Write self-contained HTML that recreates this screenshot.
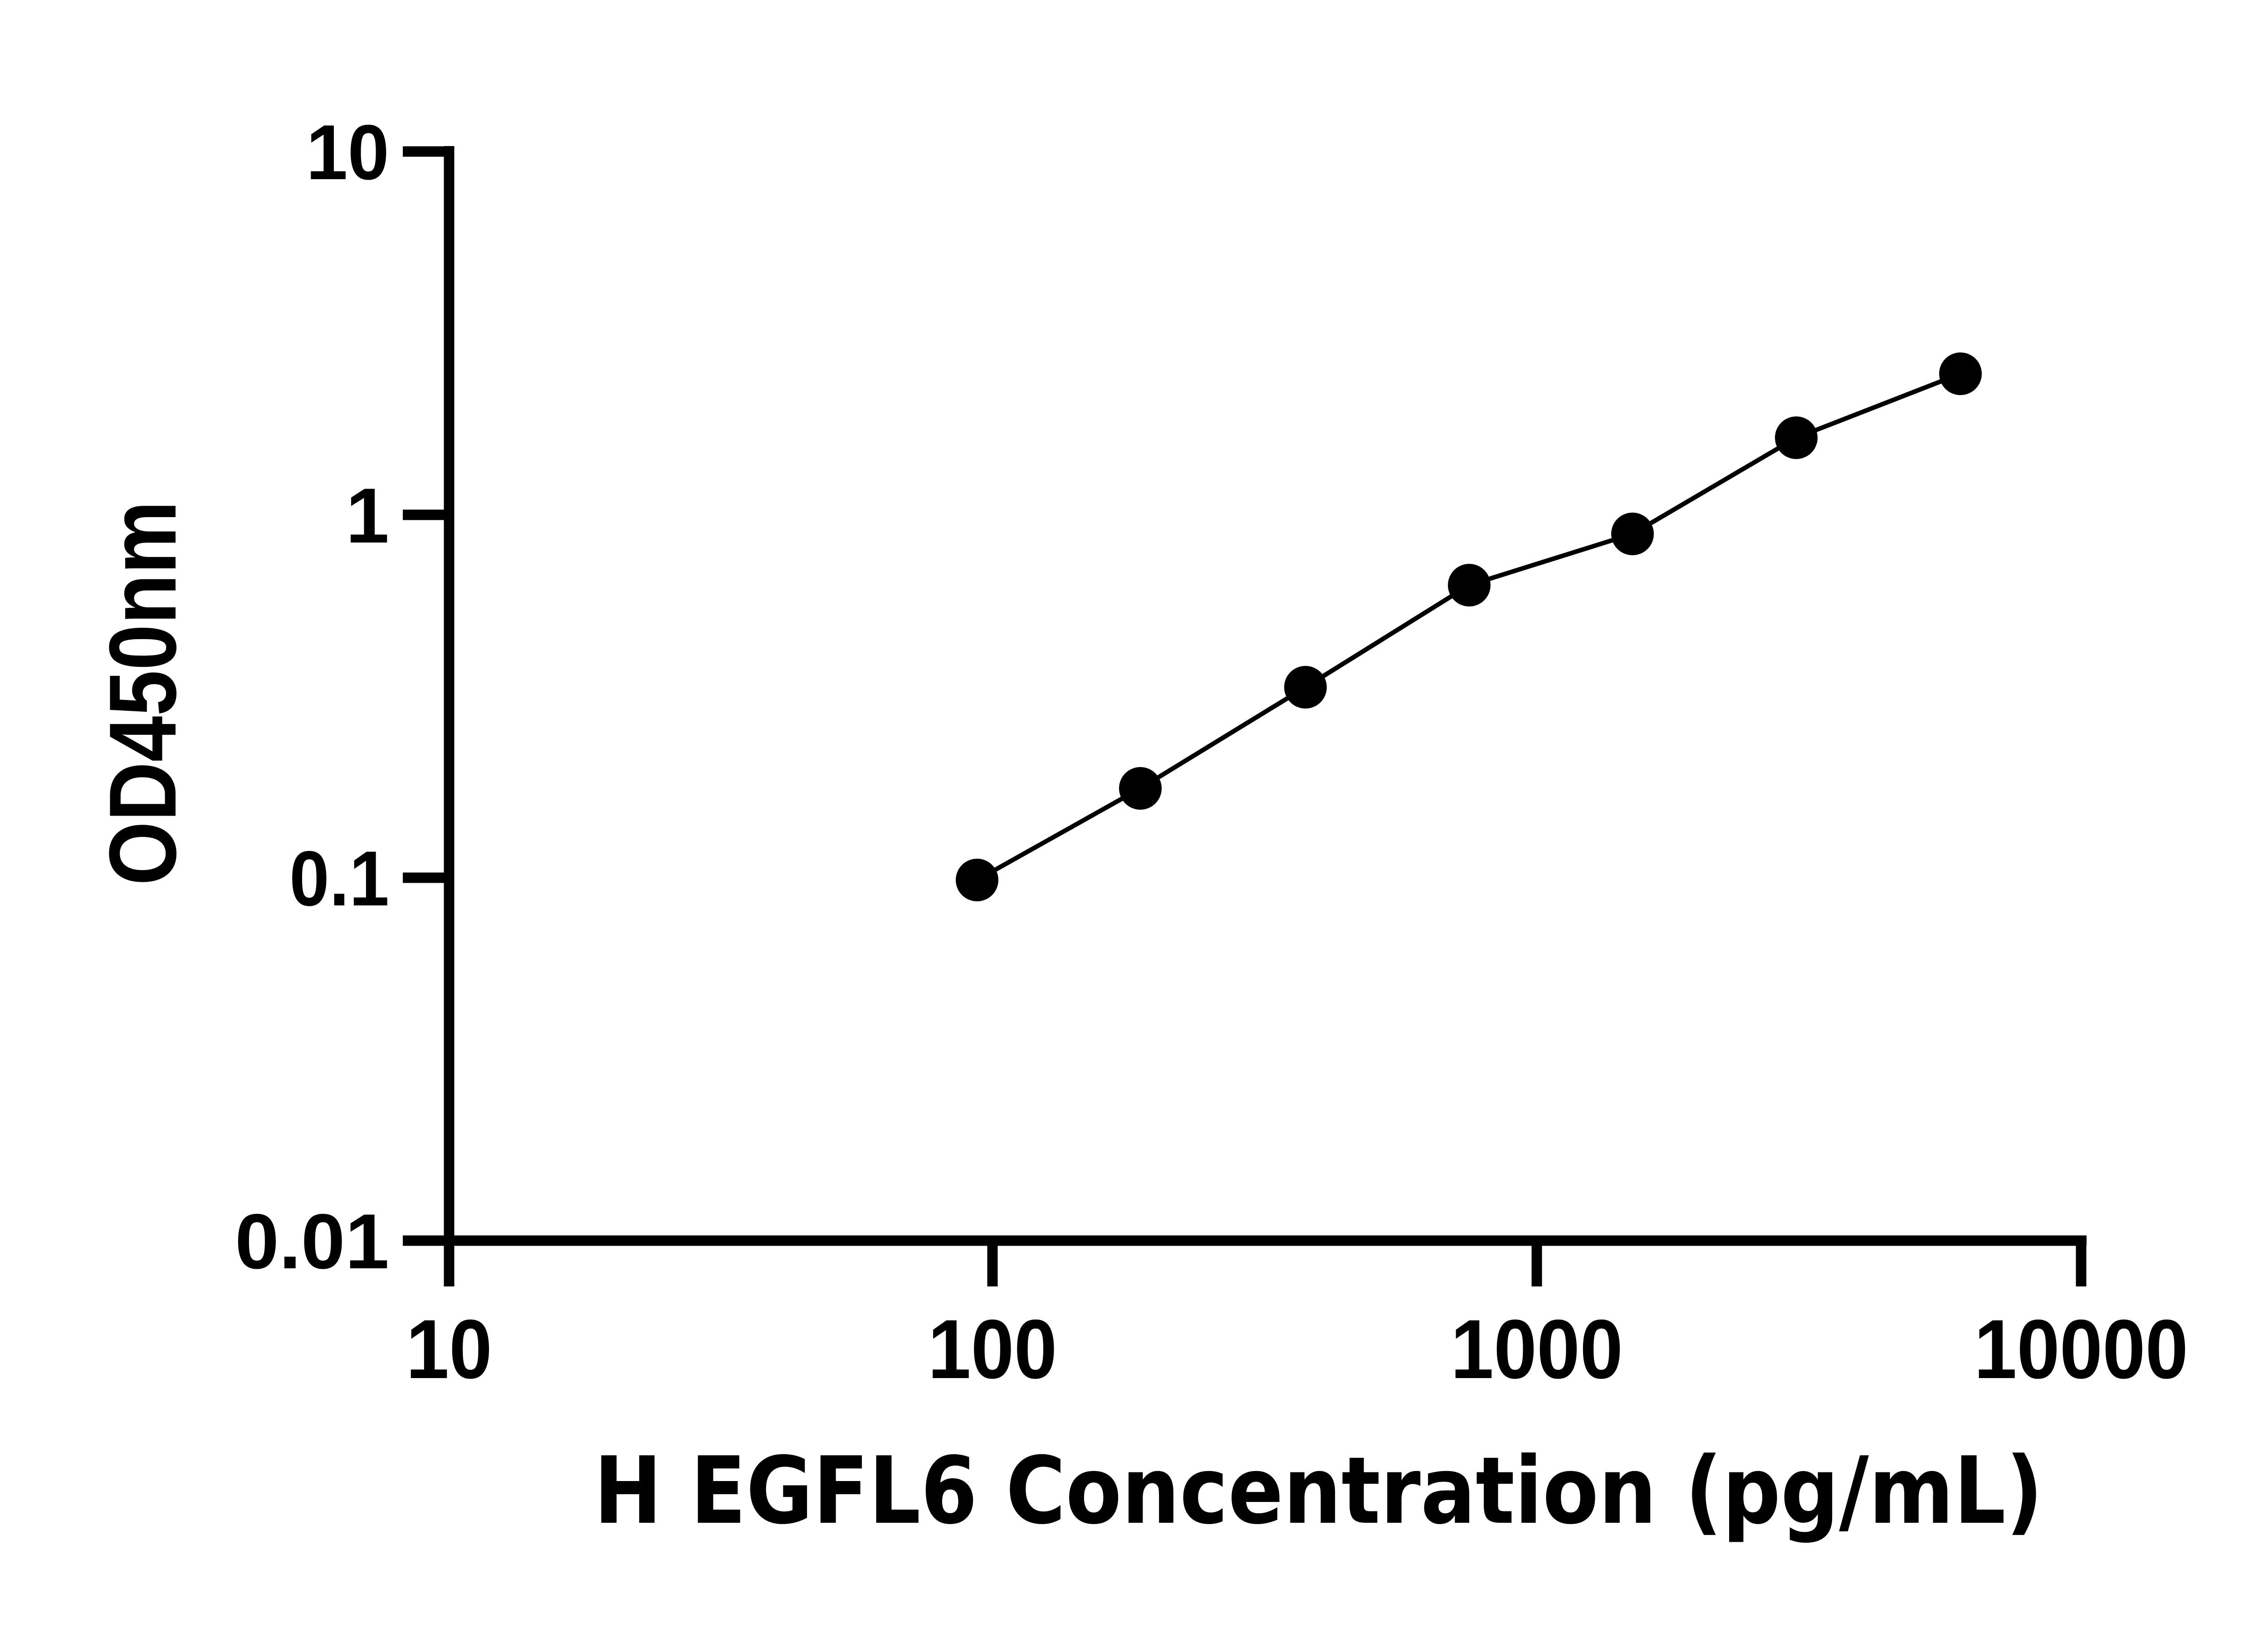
<!DOCTYPE html>
<html><head><style>html,body{margin:0;padding:0;background:#fff}svg{display:block}</style></head>
<body>
<svg width="5142" height="3600" viewBox="0 0 5142 3600" xmlns="http://www.w3.org/2000/svg">
<g stroke="#000" stroke-width="23" fill="none" stroke-linecap="butt">
<line x1="990" y1="322" x2="990" y2="2836"/>
<line x1="978" y1="2735" x2="4600" y2="2735"/>
<line x1="888" y1="334" x2="990" y2="334"/>
<line x1="888" y1="1135" x2="990" y2="1135"/>
<line x1="888" y1="1935" x2="990" y2="1935"/>
<line x1="888" y1="2735" x2="990" y2="2735"/>
<line x1="2188" y1="2735" x2="2188" y2="2836"/>
<line x1="3388" y1="2735" x2="3388" y2="2836"/>
<line x1="4588" y1="2724" x2="4588" y2="2836"/>
</g>
<polyline fill="none" stroke="#000" stroke-width="10" points="2154,1940 2514,1738 2878,1515 3239,1290 3599,1177 3960,965 4322,824"/>
<g fill="#000">
<circle cx="2154" cy="1940" r="47"/>
<circle cx="2514" cy="1738" r="47"/>
<circle cx="2878" cy="1515" r="47"/>
<circle cx="3239" cy="1290" r="47"/>
<circle cx="3599" cy="1177" r="47"/>
<circle cx="3960" cy="965" r="47"/>
<circle cx="4322" cy="824" r="47"/>
</g>
<g font-family="Liberation Sans, Arial, sans-serif" font-weight="bold" font-size="172" fill="#000" text-anchor="end">
<text x="858" y="395" textLength="183" lengthAdjust="spacingAndGlyphs">10</text>
<text x="858" y="1196">1</text>
<text x="858" y="1996" textLength="220" lengthAdjust="spacingAndGlyphs">0.1</text>
<text x="858" y="2796" textLength="340" lengthAdjust="spacingAndGlyphs">0.01</text>
</g>
<g font-family="Liberation Sans, Arial, sans-serif" font-weight="bold" font-size="185" fill="#000" text-anchor="middle">
<text x="990" y="3038" textLength="190" lengthAdjust="spacingAndGlyphs">10</text>
<text x="2188" y="3038" textLength="285" lengthAdjust="spacingAndGlyphs">100</text>
<text x="3388" y="3038" textLength="380" lengthAdjust="spacingAndGlyphs">1000</text>
<text x="4588" y="3038" textLength="472" lengthAdjust="spacingAndGlyphs">10000</text>
</g>
<text x="1309" y="3357" font-family="DejaVu Sans, sans-serif" font-weight="bold" font-size="204" textLength="3195" lengthAdjust="spacingAndGlyphs">H EGFL6 Concentration (pg/mL)</text>
<text transform="translate(387,1952) rotate(-90)" font-family="Liberation Sans, Arial, sans-serif" font-weight="bold" font-size="210" textLength="848" lengthAdjust="spacingAndGlyphs">OD450nm</text>
</svg>
</body></html>
